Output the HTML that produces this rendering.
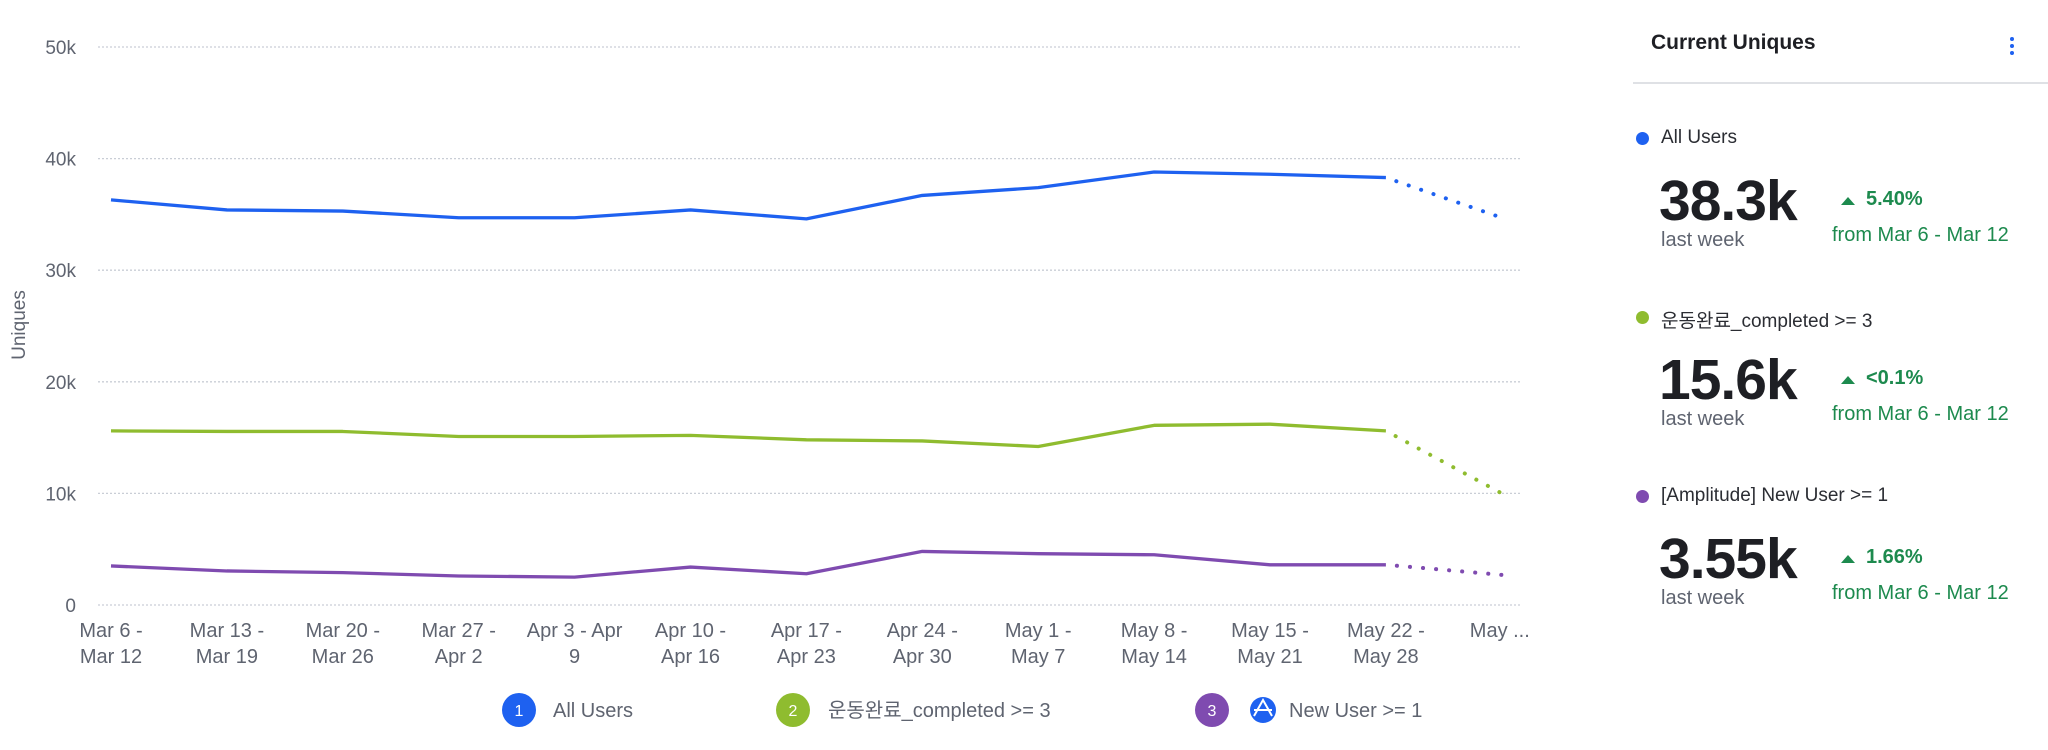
<!DOCTYPE html>
<html><head><meta charset="utf-8">
<style>
body{margin:0;width:2048px;height:750px;background:#fff;font-family:"Liberation Sans","Noto Sans CJK KR",sans-serif;overflow:hidden;position:relative}
.abs{position:absolute;white-space:nowrap}
.big{font-size:57px;font-weight:bold;color:#1e1f24;letter-spacing:-1px}
.lw{font-size:20px;color:#5f6470}
.pct{font-size:20px;font-weight:bold;color:#1d8a4e}
.from{font-size:20px;color:#1d8a4e}
.tri{width:0;height:0;border-left:7px solid transparent;border-right:7px solid transparent;border-bottom:8px solid #1d8a4e}
.lab{font-size:19px;color:#2b2d33}
.dot{width:13px;height:13px;border-radius:50%}
</style></head><body>
<svg id="chart" width="1560" height="750" style="position:absolute;left:0;top:0" font-family="Liberation Sans, Noto Sans CJK KR, sans-serif"></svg>
<div>
<div class="abs" style="left:1651px;top:31px;font-size:21px;font-weight:bold;color:#1e1f24">Current Uniques</div>
<div class="abs" style="left:2008px;top:37px;width:8px">
<div style="width:4px;height:4px;border-radius:50%;background:#1e61f0;margin:0 0 3px 2px"></div><div style="width:4px;height:4px;border-radius:50%;background:#1e61f0;margin:0 0 3px 2px"></div><div style="width:4px;height:4px;border-radius:50%;background:#1e61f0;margin-left:2px"></div></div>
<div class="abs" style="left:1633px;top:82px;width:415px;height:2px;background:#dfe1e5"></div>

<div>
<div class="abs dot" style="left:1636px;top:132px;background:#1e61f0"></div>
<div class="abs lab" style="left:1661px;top:127px">All Users</div>
<div class="abs big" style="left:1659px;top:168px">38.3k</div>
<div class="abs lw" style="left:1661px;top:229px">last week</div>
<div class="abs tri" style="left:1841px;top:197px"></div>
<div class="abs pct" style="left:1866px;top:188px">5.40%</div>
<div class="abs from" style="left:1832px;top:224px">from Mar 6 - Mar 12</div>
</div>
<div>
<div class="abs dot" style="left:1636px;top:311px;background:#8fbc2f"></div>
<div class="abs lab" style="left:1661px;top:306px">운동완료_completed &gt;= 3</div>
<div class="abs big" style="left:1659px;top:347px">15.6k</div>
<div class="abs lw" style="left:1661px;top:408px">last week</div>
<div class="abs tri" style="left:1841px;top:376px"></div>
<div class="abs pct" style="left:1866px;top:367px">&lt;0.1%</div>
<div class="abs from" style="left:1832px;top:403px">from Mar 6 - Mar 12</div>
</div>
<div>
<div class="abs dot" style="left:1636px;top:490px;background:#7f4bb0"></div>
<div class="abs lab" style="left:1661px;top:485px">[Amplitude] New User &gt;= 1</div>
<div class="abs big" style="left:1659px;top:526px">3.55k</div>
<div class="abs lw" style="left:1661px;top:587px">last week</div>
<div class="abs tri" style="left:1841px;top:555px"></div>
<div class="abs pct" style="left:1866px;top:546px">1.66%</div>
<div class="abs from" style="left:1832px;top:582px">from Mar 6 - Mar 12</div>
</div>
</div>
<script>
const categories=[["Mar 6 -","Mar 12"],["Mar 13 -","Mar 19"],["Mar 20 -","Mar 26"],["Mar 27 -","Apr 2"],["Apr 3 - Apr","9"],["Apr 10 -","Apr 16"],["Apr 17 -","Apr 23"],["Apr 24 -","Apr 30"],["May 1 -","May 7"],["May 8 -","May 14"],["May 15 -","May 21"],["May 22 -","May 28"],["May ...",""]];
const allUsers=[36.3,35.4,35.3,34.7,34.7,35.4,34.6,36.7,37.4,38.8,38.6,38.3,34.7];
const completed=[15.6,15.55,15.55,15.1,15.1,15.2,14.8,14.7,14.2,16.1,16.2,15.6,10.0];
const newUsers=[3.5,3.05,2.9,2.6,2.5,3.4,2.8,4.8,4.6,4.5,3.6,3.6,2.7];
const yTicks=[0,10,20,30,40,50];
const yTickLabels=["0","10k","20k","30k","40k","50k"];
const NS="http://www.w3.org/2000/svg";
const svg=document.getElementById('chart');
const x0=111,dx=115.9,gy0=605,gy1=47,gl=98,gr=1520;
const X=i=>x0+i*dx;
const Y=v=>gy0-(v/50)*(gy0-gy1);
function mk(t,a,p){const e=document.createElementNS(NS,t);for(const k in a)e.setAttribute(k,a[k]);(p||svg).appendChild(e);return e;}
yTicks.forEach((v,i)=>{
 const g=mk('line',{x1:gl,x2:gr,y1:Y(v),y2:Y(v),stroke:'#c9ced6','stroke-width':1.3,'stroke-dasharray':'2 2'});
 
 
 const t=mk('text',{x:76,y:Y(v)+7,'text-anchor':'end','font-size':19,fill:'#5f6470'});
 t.textContent=yTickLabels[i];
 
 
});
const yt=mk('text',{x:0,y:0,transform:'translate(25,325) rotate(-90)','text-anchor':'middle','font-size':19,fill:'#5f6470'});
yt.textContent='Uniques';


categories.forEach((c,i)=>{
 const t=mk('text',{x:X(i)+(i==12?-2:0),y:637,'text-anchor':'middle','font-size':20,fill:'#5f6470'});
 
 
 const a=mk('tspan',{x:X(i)+(i==12?-2:0),dy:0},t);a.textContent=c[0];
 const b=mk('tspan',{x:X(i),dy:26},t);b.textContent=c[1];
});
function series(vals,color,name){
 const n=vals.length;
 const solid=vals.slice(0,n-1).map((v,i)=>X(i)+','+Y(v)).join(' ');
 const p=mk('polyline',{points:solid,fill:'none',stroke:color,'stroke-width':3.3,'stroke-linejoin':'round'});
 
 
 const d=mk('line',{x1:X(n-2),y1:Y(vals[n-2]),x2:X(n-1),y2:Y(vals[n-1]),stroke:color,'stroke-width':4,'stroke-dasharray':'0.1 13','stroke-dashoffset':-11,'stroke-linecap':'round'});
 
 
}
series(allUsers,'#1e61f0','all-users');
series(completed,'#8fbc2f','completed');
series(newUsers,'#7f4bb0','new-user');
const legend=[[519,553,'#1e61f0','1','All Users'],[793,828,'#8fbc2f','2','운동완료_completed >= 3'],[1212,1289,'#7f4bb0','3','New User >= 1']];
legend.forEach((l,i)=>{
 const g=mk('g',{});
 
 
 mk('circle',{cx:l[0],cy:710,r:17,fill:l[2]},g);
 const n=mk('text',{x:l[0],y:716,'text-anchor':'middle','font-size':16,fill:'#fff'},g);n.textContent=l[3];
 const t=mk('text',{x:l[1],y:717,'font-size':20,fill:'#5f6470'},g);t.textContent=l[4];
});
const ic=mk('g',{});


mk('circle',{cx:1263,cy:710,r:13,fill:'#1e61f0'},ic);
mk('path',{d:'M1254 716 L1263 700 L1272 716 M1254 710 L1272 710',stroke:'#fff','stroke-width':2,fill:'none'},ic);
</script>
</body></html>
